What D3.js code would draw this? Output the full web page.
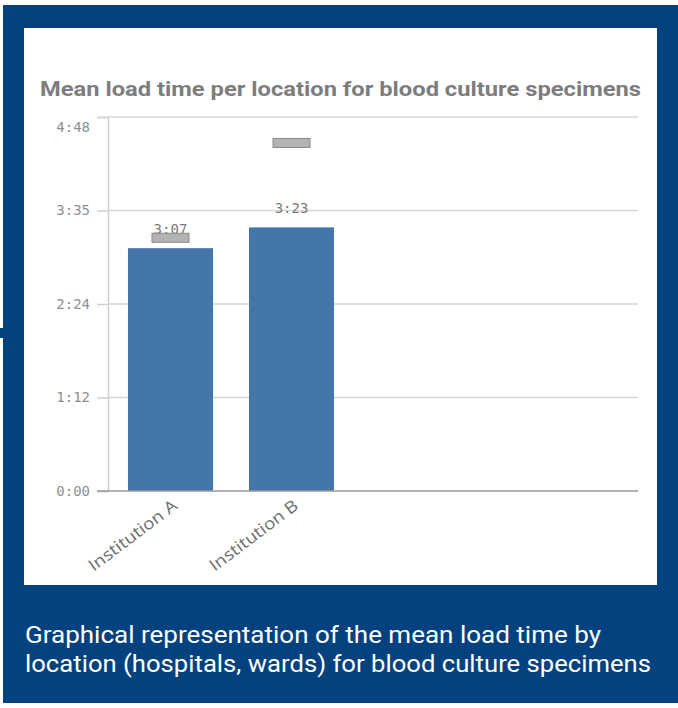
<!DOCTYPE html>
<html>
<head>
<meta charset="utf-8">
<script src="https://cdn.jsdelivr.net/npm/d3@7"></script>
<style>
  html, body { margin: 0; padding: 0; background: #ffffff; }
  svg { display: block; }
</style>
</head>
<body>
<svg id="chart" width="678" height="708"></svg>
<script>
// Mean load time (minutes) per location
const categories = ["Institution A", "Institution B"];
const meanMinutes = [187, 203];          // bar values: 3:07, 3:23
const markerMinutes = [195, 268];        // grey marker values
const tickValues = [0, 72, 144, 216, 288];
const tickLabels = ["0:00", "1:12", "2:24", "3:35", "4:48"];
const chartTitle = "Mean load time per location for blood culture specimens";
const captionLines = [
  "Graphical representation of the mean load time by",
  "location (hospitals, wards) for blood culture specimens"
];

const fmt = m => `${Math.floor(m / 60)}:${String(Math.round(m % 60)).padStart(2, "0")}`;

const svg = d3.select("#chart");

// Frame: dark blue card with white chart panel
svg.append("rect").attr("x", 3).attr("y", 5).attr("width", 675).attr("height", 698).attr("fill", "#03417f");
svg.append("rect").attr("x", 0).attr("y", 328).attr("width", 4).attr("height", 10).attr("fill", "#03417f");
svg.append("rect").attr("x", 24).attr("y", 28).attr("width", 633).attr("height", 557).attr("fill", "#ffffff");

// Plot area
const plot = { left: 108, right: 638, top: 117, bottom: 491 };

const y = d3.scaleLinear().domain([0, 288]).range([plot.bottom, plot.top]);
const x = d3.scaleBand()
  .domain(categories)
  .range([plot.left, 354])
  .paddingInner(0.2975)
  .paddingOuter(0.165);

// Title
svg.append("text")
  .attr("x", 40).attr("y", 96)
  .attr("font-family", "Roboto, 'Liberation Sans', sans-serif")
  .attr("font-weight", "bold")
  .attr("font-size", 21)
  .attr("fill", "#7d7d7d")
  .attr("textLength", 601)
  .attr("lengthAdjust", "spacingAndGlyphs")
  .text(chartTitle);

// Horizontal gridlines
svg.append("g")
  .selectAll("line")
  .data(tickValues.slice(1))
  .join("line")
  .attr("x1", plot.left).attr("x2", plot.right)
  .attr("y1", d => y(d)).attr("y2", d => y(d))
  .attr("stroke", "#d6d6d6").attr("stroke-width", 1.5);

// Y axis
const yAxis = d3.axisLeft(y)
  .tickValues(tickValues)
  .tickFormat((d, i) => tickLabels[i])
  .tickSize(11)
  .tickPadding(7);

const gy = svg.append("g")
  .attr("transform", `translate(${plot.left},0)`)
  .call(yAxis);
gy.select(".domain").attr("stroke", "#d0d0d0").attr("stroke-width", 1.5);
gy.selectAll(".tick line").attr("stroke", "#d0d0d0").attr("stroke-width", 1.5);
gy.selectAll(".tick text")
  .attr("font-family", "'DejaVu Sans Mono', monospace")
  .attr("font-size", 14)
  .attr("fill", "#8f8f8f");
// keep the top label inside the plot area
gy.selectAll(".tick text").filter(d => d === 288).attr("dy", "1.05em");

// Bars
svg.append("g")
  .selectAll("rect")
  .data(categories)
  .join("rect")
  .attr("x", d => x(d))
  .attr("width", x.bandwidth())
  .attr("y", (d, i) => y(meanMinutes[i]))
  .attr("height", (d, i) => y(0) - y(meanMinutes[i]))
  .attr("fill", "#4576a9");

// Baseline
svg.append("line")
  .attr("x1", 97).attr("x2", plot.right)
  .attr("y1", y(0)).attr("y2", y(0))
  .attr("stroke", "#9a9a9a").attr("stroke-width", 1.5);

// Value labels
svg.append("g")
  .selectAll("text")
  .data(categories)
  .join("text")
  .attr("x", d => x(d) + x.bandwidth() / 2)
  .attr("y", (d, i) => y(meanMinutes[i]) - 14)
  .attr("text-anchor", "middle")
  .attr("font-family", "'DejaVu Sans Mono', monospace")
  .attr("font-size", 14)
  .attr("fill", "#7a7a7a")
  .text((d, i) => fmt(meanMinutes[i]));

// Grey markers
const markerW = 37, markerH = 9;
svg.append("g")
  .selectAll("rect")
  .data(categories)
  .join("rect")
  .attr("x", d => x(d) + x.bandwidth() / 2 - markerW / 2)
  .attr("y", (d, i) => y(markerMinutes[i]) - markerH / 2)
  .attr("width", markerW)
  .attr("height", markerH)
  .attr("fill", "#ababab")
  .attr("fill-opacity", 0.9)
  .attr("stroke", "#8a8a8a")
  .attr("stroke-width", 1);

// Category labels, rotated
svg.append("g")
  .selectAll("text")
  .data(categories)
  .join("text")
  .attr("transform", d => `translate(${x(d) + x.bandwidth() / 2 + 8},${y(0) + 17}) rotate(-37)`)
  .attr("text-anchor", "end")
  .attr("font-family", "'Open Sans', sans-serif")
  .attr("font-size", 16.5)
  .attr("fill", "#6e6e6e")
  .attr("textLength", 106)
  .attr("lengthAdjust", "spacingAndGlyphs")
  .text(d => d);

// Caption
svg.append("g")
  .selectAll("text")
  .data(captionLines)
  .join("text")
  .attr("x", 25)
  .attr("y", (d, i) => 643 + i * 29)
  .attr("font-family", "Roboto, 'Liberation Sans', sans-serif")
  .attr("font-size", 23)
  .attr("fill", "#ffffff")
  .attr("textLength", (d, i) => i === 0 ? 576 : 626)
  .attr("lengthAdjust", "spacingAndGlyphs")
  .text(d => d);
</script>
</body>
</html>
